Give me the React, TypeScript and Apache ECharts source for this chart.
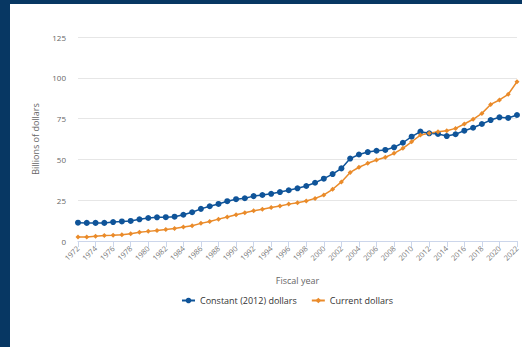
import React, { useEffect, useRef } from "react";
import * as echarts from "echarts";

const years: string[] = [];
for (let y = 1972; y <= 2022; y++) years.push(String(y));

const constantDollars = [
  11.2, 11.1, 11.1, 11.1, 11.6, 12.0, 12.3, 13.3, 14.1, 14.5, 14.6, 14.9, 16.1,
  17.6, 19.7, 21.3, 22.7, 24.4, 25.6, 26.2, 27.5, 28.2, 28.9, 30.0, 31.1,
  32.3, 33.7, 35.7, 38.2, 41.0, 44.5, 50.5, 53.0, 54.5, 55.3, 55.8, 57.4, 60.2,
  63.9, 67.0, 66.0, 65.6, 64.3, 65.4, 67.6, 69.4, 71.7, 74.1, 75.8, 75.4, 77.2,
];

const currentDollars = [
  2.5, 2.5, 2.9, 3.3, 3.5, 3.9, 4.5, 5.3, 5.9, 6.5, 7.1, 7.7, 8.6, 9.4, 10.8,
  11.9, 13.4, 14.7, 16.1, 17.3, 18.5, 19.5, 20.5, 21.4, 22.6,
  23.5, 24.5, 26.1, 28.2, 31.7, 36.2, 42.0, 45.2, 47.6, 49.6, 51.3, 53.7, 56.8,
  60.8, 64.9, 66.0, 67.0, 67.6, 69.0, 71.7, 74.6, 78.2, 83.7, 86.4, 89.9, 97.6,
];

const seriesNames = ["Constant (2012) dollars", "Current dollars"];
const yTicks = { min: 0, max: 125, interval: 25 };

const FONT = "'Open Sans', 'Noto Sans', sans-serif";

export default function App() {
  const ref = useRef<HTMLDivElement>(null);
  useEffect(() => {
    if (!ref.current) return;
    const chart = echarts.init(ref.current, undefined, { renderer: "svg" });
    chart.setOption({
      animation: false,
      textStyle: { fontFamily: FONT },
      grid: { left: 68, right: 5, top: 33, bottom: 106, containLabel: false },
      legend: {
        bottom: 37,
        left: 166,
        itemWidth: 13,
        itemHeight: 7,
        itemGap: 14,
        textStyle: { fontSize: 9, color: "#333", fontWeight: 500, fontFamily: FONT },
        data: seriesNames,
      },
      xAxis: {
        type: "category",
        data: years,
        boundaryGap: false,
        name: "Fiscal year",
        nameLocation: "middle",
        nameGap: 35,
        nameTextStyle: { fontSize: 9, color: "#666" },
        axisLine: { lineStyle: { color: "#ccd6eb", width: 1 } },
        axisTick: { show: true, interval: 1, length: 6, lineStyle: { color: "#ccd6eb" } },
        axisLabel: { interval: 1, rotate: 45, fontSize: 7.5, color: "#777", margin: 6 },
      },
      yAxis: {
        type: "value",
        min: yTicks.min,
        max: yTicks.max,
        interval: yTicks.interval,
        name: "Billions of dollars",
        nameLocation: "middle",
        nameGap: 38,
        nameTextStyle: { fontSize: 9, color: "#666" },
        axisLine: { show: false },
        axisTick: { show: false },
        axisLabel: { fontSize: 8, color: "#666", margin: 12 },
        splitLine: { lineStyle: { color: "#e6e6e6", width: 1 } },
      },
      series: [
        {
          name: seriesNames[0],
          type: "line",
          data: constantDollars,
          color: "#0f5499",
          symbol: "circle",
          symbolSize: 6,
          showAllSymbol: true,
          lineStyle: { width: 1.5 },
        },
        {
          name: seriesNames[1],
          type: "line",
          data: currentDollars,
          color: "#ea8b2a",
          symbol: "diamond",
          symbolSize: 5,
          showAllSymbol: true,
          lineStyle: { width: 1.5 },
        },
      ],
    });
    return () => chart.dispose();
  }, []);

  return (
    <div
      style={{
        position: "fixed",
        left: 0,
        top: 0,
        width: 522,
        height: 347,
        background: "#073763",
        overflow: "hidden",
      }}
    >
      <div
        style={{
          position: "absolute",
          left: 10,
          top: 4,
          width: 512,
          height: 343,
          background: "#ffffff",
        }}
      >
        <div ref={ref} style={{ width: 512, height: 343 }} />
      </div>
    </div>
  );
}
